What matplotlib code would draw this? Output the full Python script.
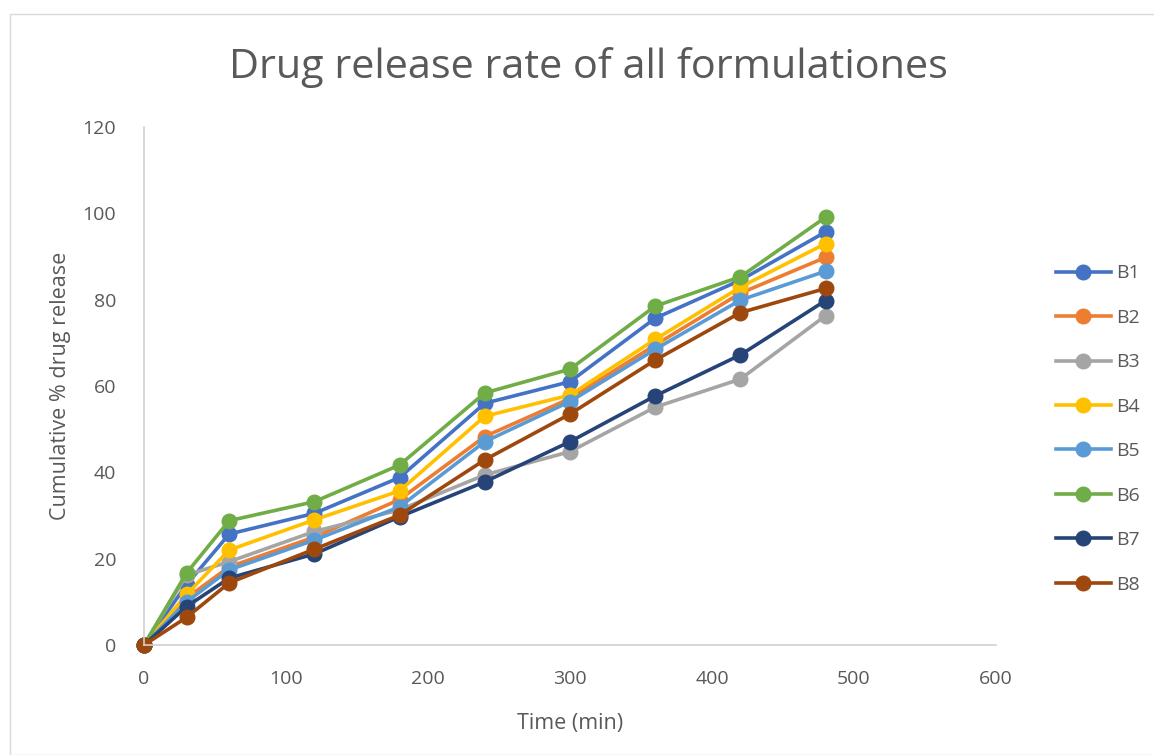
import matplotlib.pyplot as plt
from matplotlib.patches import Rectangle

plt.rcParams['font.family'] = ['Open Sans', 'DejaVu Sans']

time = [0, 30, 60, 120, 180, 240, 300, 360, 420, 480]

b1 = [0, 14.0, 25.7, 30.5, 38.8, 56.0, 61.0, 75.7, 84.5, 95.7]
b2 = [0, 10.9, 18.1, 25.0, 33.7, 48.3, 57.1, 69.5, 81.5, 89.8]
b3 = [0, 16.2, 19.3, 26.3, 31.3, 39.4, 44.8, 55.1, 61.6, 76.3]
b4 = [0, 11.7, 22.0, 29.0, 35.7, 53.0, 57.9, 70.8, 82.9, 93.0]
b5 = [0, 10.0, 17.4, 24.3, 32.0, 47.1, 56.4, 68.5, 79.9, 86.6]
b6 = [0, 16.7, 28.8, 33.2, 41.7, 58.4, 63.9, 78.5, 85.3, 99.1]
b7 = [0, 8.9, 15.5, 21.1, 29.7, 37.8, 47.1, 57.7, 67.2, 79.8]
b8 = [0, 6.4, 14.4, 22.2, 30.1, 42.9, 53.5, 66.0, 77.0, 82.6]

series = [b1, b2, b3, b4, b5, b6, b7, b8]
names = ['B1', 'B2', 'B3', 'B4', 'B5', 'B6', 'B7', 'B8']
colors = ['#4472C4', '#ED7D31', '#A5A5A5', '#FFC000',
          '#5B9BD5', '#70AD47', '#264478', '#9E480E']

txt = '#595959'
fig = plt.figure(figsize=(11.54, 7.55), dpi=100)
ax = fig.add_axes([144 / 1154, 1 - 645 / 755, 852 / 1154, 518 / 755])

for vals, name, c in zip(series, names, colors):
    ax.plot(time, vals, color=c, linewidth=2.6, marker='o',
            markersize=10.5, label=name, clip_on=False)

ax.set_xlim(0, 600)
ax.set_ylim(0, 120)
ax.set_xticks(range(0, 601, 100))
ax.set_yticks(range(0, 121, 20))
ax.tick_params(length=0, labelsize=14, colors=txt)
ax.tick_params(axis='x', pad=18)
ax.tick_params(axis='y', pad=20)
for s in ['top', 'right']:
    ax.spines[s].set_visible(False)
for s in ['left', 'bottom']:
    ax.spines[s].set_color('#D0D0D0')
    ax.spines[s].set_linewidth(1.2)

ax.set_xlabel('Time (min)', fontsize=15.5, color=txt, labelpad=18)
ax.set_ylabel('Cumulative % drug release', fontsize=15.5, color=txt, labelpad=8)
fig.text(588 / 1154, 1 - 67 / 755, 'Drug release rate of all formulationes',
         fontsize=29.8, color=txt, ha='center', va='center')

leg = ax.legend(loc='center left', bbox_to_anchor=(1.05, 0.417), frameon=False,
                fontsize=14, labelcolor=txt, handlelength=2.8, labelspacing=1.36,
                handletextpad=0.3)

fig.patches.append(Rectangle((10 / 1154, 0), 1150 / 1154, 1 - 14 / 755,
                             transform=fig.transFigure, fill=False,
                             edgecolor='#D9D9D9', linewidth=1))

fig.savefig('out.png', dpi=100)
